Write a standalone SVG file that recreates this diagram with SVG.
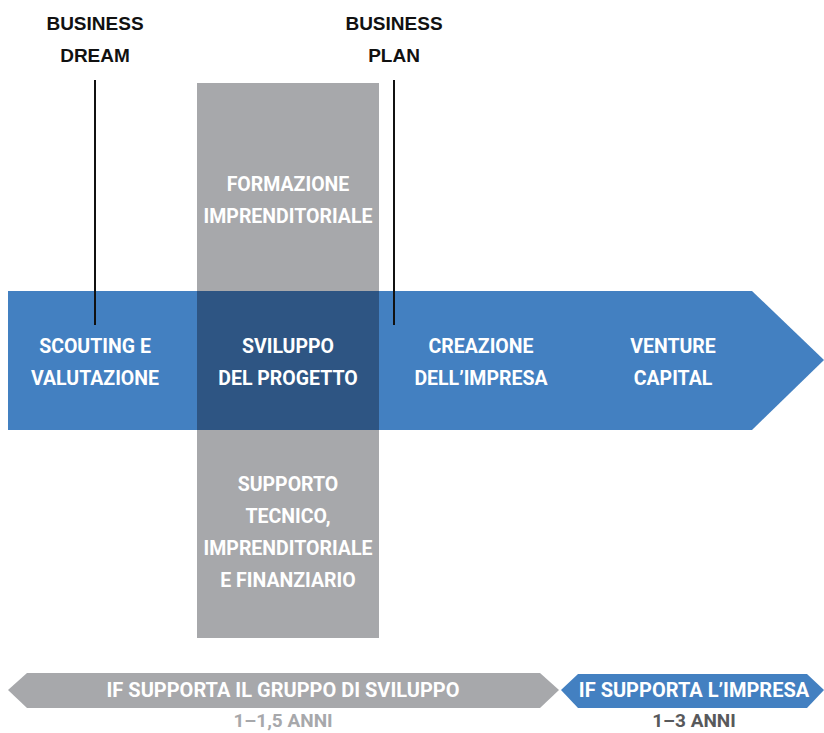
<svg xmlns="http://www.w3.org/2000/svg" width="824" height="733" viewBox="0 0 824 733">
<style>
.lbl{font-family:Roboto,"Liberation Sans",sans-serif;font-weight:bold;font-size:19.5px;fill:#ffffff;text-anchor:middle}
.bot{font-size:20px}
.top{font-family:"Liberation Sans",Arial,sans-serif;font-weight:bold;font-size:19px;fill:#111111;text-anchor:middle}
.yrs{font-family:Roboto,"Liberation Sans",sans-serif;font-weight:bold;font-size:19px;text-anchor:middle}
.conn{stroke:#111111;stroke-width:2;fill:none}
</style>
<rect width="824" height="733" fill="#ffffff"/>
<g id="main-arrow">
<polygon points="8,291 752,291 824,360 752,430 8,430" fill="#4380c1"/>
</g>
<g id="gray-bar">
<rect x="197" y="83" width="182" height="555" fill="#a7a8ab"/>
<rect x="197" y="291" width="182" height="139" fill="#2e5583"/>
</g>
<g id="connectors">
<line class="conn" x1="95" y1="80" x2="95" y2="325"/>
<line class="conn" x1="394" y1="80" x2="394" y2="325"/>
</g>
<g id="business-dream">
<text class="top" x="95" y="30">BUSINESS</text>
<text class="top" x="95" y="62">DREAM</text>
</g>
<g id="business-plan">
<text class="top" x="394" y="30">BUSINESS</text>
<text class="top" x="394" y="62">PLAN</text>
</g>
<g id="formazione">
<text class="lbl" x="288" y="191">FORMAZIONE</text>
<text class="lbl" x="288" y="223">IMPRENDITORIALE</text>
</g>
<g id="scouting">
<text class="lbl" x="95" y="353">SCOUTING E</text>
<text class="lbl" x="95" y="385">VALUTAZIONE</text>
</g>
<g id="sviluppo">
<text class="lbl" x="288" y="353">SVILUPPO</text>
<text class="lbl" x="288" y="385">DEL PROGETTO</text>
</g>
<g id="creazione">
<text class="lbl" x="481" y="353">CREAZIONE</text>
<text class="lbl" x="481" y="385">DELL’IMPRESA</text>
</g>
<g id="venture">
<text class="lbl" x="673" y="353">VENTURE</text>
<text class="lbl" x="673" y="385">CAPITAL</text>
</g>
<g id="supporto">
<text class="lbl" x="288" y="491">SUPPORTO</text>
<text class="lbl" x="288" y="523">TECNICO,</text>
<text class="lbl" x="288" y="555">IMPRENDITORIALE</text>
<text class="lbl" x="288" y="587">E FINANZIARIO</text>
</g>
<g id="if-gruppo">
<polygon points="8,690 27,673 540,673 559,690 540,708 27,708" fill="#a7a8ab"/>
<text class="lbl bot" x="283" y="697">IF SUPPORTA IL GRUPPO DI SVILUPPO</text>
<text class="yrs" x="283" y="727" fill="#a7a8ab">1–1,5 ANNI</text>
</g>
<g id="if-impresa">
<polygon points="561,690 578,674 807,674 824,690 807,708 578,708" fill="#4380c1"/>
<text class="lbl bot" x="694" y="697">IF SUPPORTA L’IMPRESA</text>
<text class="yrs" x="694" y="727" fill="#58595b">1–3 ANNI</text>
</g>
</svg>
